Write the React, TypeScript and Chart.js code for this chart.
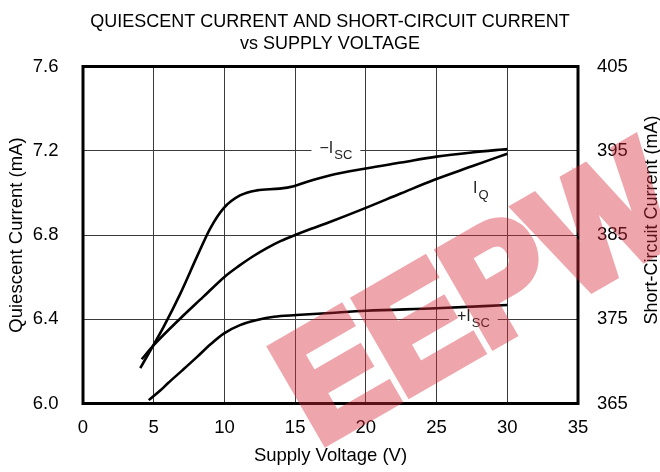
import React, { useEffect, useRef } from "react";
import { Chart, registerables } from "chart.js";

Chart.register(...registerables);

// ---------- data ----------
const TITLE_LINES = ["QUIESCENT CURRENT AND SHORT-CIRCUIT CURRENT", "vs SUPPLY VOLTAGE"];
const X_TITLE = "Supply Voltage (V)";
const Y_LEFT_TITLE = "Quiescent Current (mA)";
const Y_RIGHT_TITLE = "Short-Circuit Current (mA)";

const X_TICKS = [0, 5, 10, 15, 20, 25, 30, 35];
const Y_LEFT_TICKS = [6.0, 6.4, 6.8, 7.2, 7.6];
const Y_RIGHT_TICKS = [365, 375, 385, 395, 405];

// -I_SC (right axis, mA)
const ISC_NEG_V = [4.05, 5.0, 5.7, 6.9, 8.05, 9.0, 9.95, 11.1, 12.3, 13.9, 14.9, 15.8, 17.5, 20.0, 22.5, 25.0, 27.5, 30.0];
const ISC_NEG_MA = [369.2, 372.0, 374.1, 378.1, 382.4, 385.8, 388.2, 389.7, 390.3, 390.5, 390.8, 391.3, 392.1, 392.9, 393.6, 394.3, 394.8, 395.2];

// I_Q (left axis, mA)
const IQ_V = [4.15, 5.0, 6.9, 8.5, 10.0, 11.0, 12.0, 13.0, 14.0, 15.0, 16.0, 17.5, 19.6, 22.5, 24.8, 27.5, 30.0];
const IQ_MA = [6.21, 6.277, 6.405, 6.506, 6.601, 6.652, 6.698, 6.738, 6.772, 6.8, 6.826, 6.863, 6.918, 6.998, 7.061, 7.126, 7.186];

// +I_SC (right axis, mA)
const ISC_POS_V = [4.65, 5.5, 6.0, 7.0, 8.05, 9.0, 9.95, 11.1, 12.3, 13.5, 15.1, 17.5, 20.0, 25.0, 30.0];
const ISC_POS_MA = [365.4, 366.6, 367.4, 368.9, 370.5, 372.0, 373.3, 374.3, 374.9, 375.3, 375.5, 375.75, 376.0, 376.3, 376.7];

// curve labels: main text, subscript, anchor (x in V, y on left axis in mA)
const LABEL_MAIN = ["\u2212I", "I", "+I"];
const LABEL_SUB = ["SC", "Q", "SC"];
const LABEL_X = [17.88, 28.13, 27.6];
const LABEL_Y = [7.2, 7.01, 6.4];
const LABEL_BG = [true, false, true];

const FONT = '"Liberation Sans", Arial, sans-serif';
const GRID = "#3a3a3a";

const overlayPlugin = {
  id: "overlay",
  afterDraw(chart: any) {
    const ctx = chart.ctx as CanvasRenderingContext2D;
    const { left, right, top, bottom } = chart.chartArea;
    const xs = chart.scales.x;
    const ys = chart.scales.y;

    // curve labels
    for (let i = 0; i < LABEL_MAIN.length; i++) {
      const cx = xs.getPixelForValue(LABEL_X[i]);
      const cy = ys.getPixelForValue(LABEL_Y[i]);
      ctx.save();
      ctx.font = `16px ${FONT}`;
      const mw = ctx.measureText(LABEL_MAIN[i]).width;
      ctx.font = `13px ${FONT}`;
      const sw = ctx.measureText(LABEL_SUB[i]).width;
      const tw = mw + sw + 1;
      const x0 = cx - tw / 2;
      if (LABEL_BG[i]) {
        ctx.fillStyle = "#fff";
        ctx.fillRect(x0 - 8, cy - 10, tw + 16, 20);
      }
      ctx.fillStyle = "#222";
      ctx.textBaseline = "middle";
      ctx.textAlign = "left";
      ctx.font = `16px ${FONT}`;
      ctx.fillText(LABEL_MAIN[i], x0, cy - 2.5);
      ctx.font = `13px ${FONT}`;
      ctx.fillText(LABEL_SUB[i], x0 + mw + 1, cy + 4.5);
      ctx.restore();
    }

    // frame
    ctx.save();
    ctx.strokeStyle = "#000";
    ctx.lineWidth = 3;
    ctx.strokeRect(left, top, right - left, bottom - top);
    ctx.restore();

    // right axis title (reads bottom to top)
    ctx.save();
    ctx.translate(652, 220);
    ctx.rotate(-Math.PI / 2);
    ctx.font = `18px ${FONT}`;
    ctx.fillStyle = "#000";
    ctx.textAlign = "center";
    ctx.textBaseline = "middle";
    ctx.fillText(Y_RIGHT_TITLE, 0, 0);
    ctx.restore();

    // watermark
    const wm = document.createElement("canvas");
    wm.width = chart.width;
    wm.height = chart.height;
    const w = wm.getContext("2d")!;
    w.save();
    w.translate(318, 446);
    w.rotate((-30 * Math.PI) / 180);
    w.scale(0.93, 1);
    w.font = 'bold 156px "Liberation Sans", Arial, sans-serif';
    w.lineJoin = "miter";
    w.lineWidth = 10;
    w.fillStyle = "rgb(214,45,58)";
    w.strokeStyle = "rgb(214,45,58)";
    w.strokeText("EEPW", 0, 0);
    w.fillText("EEPW", 0, 0);
    w.restore();
    ctx.save();
    ctx.globalAlpha = 0.42;
    ctx.drawImage(wm, 0, 0);
    ctx.restore();
  },
};

function pts(xv: number[], yv: number[]) {
  return xv.map((v, i) => ({ x: v, y: yv[i] }));
}

export default function App() {
  const ref = useRef<HTMLCanvasElement | null>(null);

  useEffect(() => {
    document.body.style.margin = "0";
    const canvas = ref.current!;
    const lineStyle = {
      borderColor: "#000",
      borderWidth: 2.6,
      pointRadius: 0,
      fill: false,
      tension: 0.4,
      cubicInterpolationMode: "monotone" as const,
    };
    const chart = new Chart(canvas, {
      type: "line",
      data: {
        datasets: [
          { label: "-ISC", data: pts(ISC_NEG_V, ISC_NEG_MA), yAxisID: "y1", ...lineStyle },
          { label: "IQ", data: pts(IQ_V, IQ_MA), yAxisID: "y", ...lineStyle },
          { label: "+ISC", data: pts(ISC_POS_V, ISC_POS_MA), yAxisID: "y1", ...lineStyle },
        ],
      },
      options: {
        responsive: false,
        animation: false,
        devicePixelRatio: 1,
        layout: { padding: 0 },
        plugins: {
          legend: { display: false },
          tooltip: { enabled: false },
          title: {
            display: true,
            text: TITLE_LINES,
            color: "#000",
            font: { family: FONT, size: 18, weight: "normal", lineHeight: 1.25 },
            padding: { top: 10.75, bottom: 10.75 },
          },
        },
        scales: {
          x: {
            type: "linear",
            min: 0,
            max: 35,
            afterBuildTicks: (s: any) => {
              s.ticks = X_TICKS.map((v) => ({ value: v }));
            },
            afterFit: (s: any) => {
              s.height = 68.5;
            },
            ticks: {
              padding: 13,
              color: "#000",
              font: { family: FONT, size: 18.5 },
              callback: (v: any) => String(v),
            },
            grid: { color: GRID, lineWidth: 1, drawTicks: false },
            border: { display: false },
            title: {
              display: true,
              text: X_TITLE,
              color: "#000",
              font: { family: FONT, size: 18.5 },
              padding: { top: 0, bottom: 5 },
            },
          },
          y: {
            type: "linear",
            position: "left",
            min: 6.0,
            max: 7.6,
            afterBuildTicks: (s: any) => {
              s.ticks = Y_LEFT_TICKS.map((v) => ({ value: v }));
            },
            afterFit: (s: any) => {
              s.width = 83;
            },
            ticks: {
              padding: 24.5,
              color: "#000",
              font: { family: FONT, size: 18.5 },
              callback: (v: any) => Number(v).toFixed(1),
            },
            grid: { color: GRID, lineWidth: 1, drawTicks: false },
            border: { display: false },
            title: {
              display: true,
              text: Y_LEFT_TITLE,
              color: "#000",
              font: { family: FONT, size: 18.5 },
              padding: { top: 6, bottom: 0 },
            },
          },
          y1: {
            type: "linear",
            position: "right",
            min: 365,
            max: 405,
            afterBuildTicks: (s: any) => {
              s.ticks = Y_RIGHT_TICKS.map((v) => ({ value: v }));
            },
            afterFit: (s: any) => {
              s.width = 82;
            },
            ticks: {
              padding: 19,
              color: "#000",
              font: { family: FONT, size: 18.5 },
              callback: (v: any) => String(v),
            },
            grid: { display: false, drawTicks: false },
            border: { display: false },
          },
        },
      },
      plugins: [overlayPlugin],
    });
    return () => chart.destroy();
  }, []);

  return (
    <div style={{ width: 660, height: 472, position: "relative" }}>
      <canvas ref={ref} width={660} height={472} style={{ display: "block" }} />
    </div>
  );
}
